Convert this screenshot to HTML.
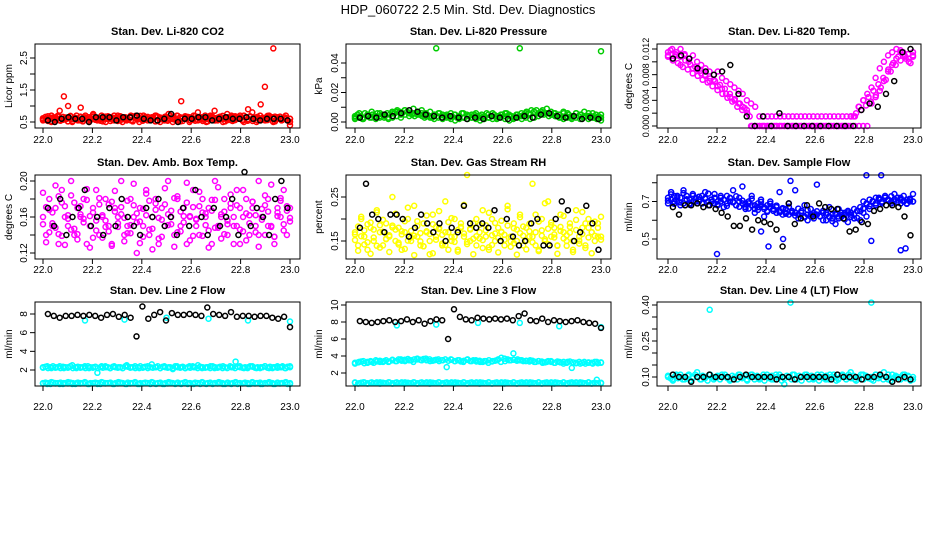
<!DOCTYPE html>
<html><head><meta charset="utf-8">
<style>
html,body{margin:0;padding:0;background:#fff;}
svg{display:block;font-family:"Liberation Sans",Arial,sans-serif;}
</style></head>
<body>
<svg id="chart" width="936" height="540" viewBox="0 0 936 540" xmlns="http://www.w3.org/2000/svg">
<rect x="0" y="0" width="936" height="540" fill="#fff"/>
<text x="468" y="14" text-anchor="middle" font-size="13">HDP_060722  2.5 Min. Std. Dev. Diagnostics</text>
</svg>
<script>
// ---------- data ----------
const xTicks = [22.0, 22.2, 22.4, 22.6, 22.8, 23.0];
const xTickLabels = ["22.0", "22.2", "22.4", "22.6", "22.8", "23.0"];

const co2Red = [0.6,0.55,0.7,0.65,0.85,1.3,1.0,0.6,0.7,0.95,0.6,0.65,0.75,0.6,0.7,0.65,0.6,0.7,0.65,0.6,0.55,0.7,0.65,0.6,0.7,0.6,0.65,0.7,0.6,0.65,0.75,0.6,0.7,1.15,0.6,0.65,0.7,0.8,0.65,0.6,0.7,0.85,0.65,0.6,0.75,0.7,0.65,0.6,0.7,0.9,0.8,0.65,1.05,1.6,0.7,2.8,0.65,0.6,0.7,0.4];
const co2Red2 = [0.55,0.6,0.5,0.6,0.55,0.6,0.65,0.5,0.6,0.55,0.65,0.5,0.6,0.55,0.6,0.5,0.65,0.55,0.6,0.5,0.6,0.55,0.65,0.5,0.6,0.55,0.6,0.65,0.5,0.55,0.6,0.5,0.55,0.6,0.65,0.5,0.6,0.55,0.6,0.5,0.65,0.55,0.6,0.5,0.6,0.55,0.6,0.65,0.5,0.55,0.6,0.5,0.55,0.6,0.65,0.5,0.6,0.55,0.6,0.5];
const co2Red3 = [0.62,0.57,0.68,0.52,0.64,0.59,0.7,0.54,0.66,0.58,0.61,0.69,0.53,0.63,0.57,0.67,0.52,0.6,0.65,0.56,0.71,0.58,0.62,0.54,0.66,0.6,0.68,0.53,0.63,0.59,0.7,0.55,0.64,0.57,0.61,0.67,0.52,0.63,0.58,0.69,0.55,0.62,0.66,0.56,0.6,0.7,0.53,0.64,0.58,0.67,0.54,0.61,0.65,0.57,0.69,0.52,0.63,0.6,0.66,0.55,0.62,0.68,0.57,0.64,0.53,0.7,0.59,0.61,0.66,0.55,0.63,0.58,0.69,0.52,0.65,0.6,0.67,0.56,0.62,0.7,0.54,0.64,0.59,0.68,0.53,0.61,0.66,0.57,0.63,0.55,0.69,0.6,0.65,0.52,0.62,0.67,0.58,0.64,0.56,0.6];
const co2Red4 = [0.58,0.66,0.53,0.63,0.6,0.55,0.67,0.61,0.57,0.64,0.52,0.68,0.59,0.62,0.55,0.65,0.58,0.7,0.54,0.61,0.66,0.57,0.63,0.6,0.52,0.67,0.59,0.64,0.56,0.62,0.53,0.68,0.6,0.65,0.57,0.63,0.55,0.69,0.58,0.61,0.54,0.66,0.6,0.63,0.57,0.52,0.67,0.61,0.58,0.64,0.55,0.7,0.59,0.62,0.56,0.65,0.53,0.68,0.6,0.63,0.57,0.54,0.66,0.61,0.58,0.64,0.52,0.69,0.6,0.62,0.55,0.67,0.59,0.63,0.56,0.65,0.53,0.68,0.6,0.61,0.57,0.64,0.54,0.66,0.59,0.62,0.55,0.7,0.58,0.63,0.56,0.65,0.53,0.67,0.6,0.61,0.57,0.64,0.55,0.6];
const co2Black = [0.55,0.5,0.6,0.65,0.6,0.6,0.5,0.65,0.65,0.65,0.55,0.65,0.65,0.7,0.6,0.55,0.55,0.6,0.75,0.5,0.6,0.6,0.65,0.65,0.55,0.6,0.65,0.6,0.6,0.65,0.6,0.55,0.6,0.6,0.6,0.55];

const pressGreen = [0.004,0.006,0.003,0.005,0.007,0.004,0.006,0.005,0.003,0.006,0.007,0.005,0.008,0.006,0.009,0.007,0.008,0.006,0.007,0.005,0.006,0.005,0.004,0.006,0.005,0.003,0.006,0.004,0.005,0.006,0.004,0.003,0.005,0.006,0.004,0.005,0.006,0.004,0.003,0.005,0.004,0.006,0.005,0.007,0.006,0.008,0.009,0.007,0.006,0.005,0.007,0.006,0.004,0.006,0.005,0.007,0.004,0.006,0.003,0.005];
const pressGreen2 = [0.002,0.003,0.002,0.004,0.003,0.002,0.004,0.003,0.002,0.003,0.004,0.003,0.005,0.004,0.006,0.005,0.006,0.004,0.003,0.002,0.003,0.002,0.003,0.002,0.001,0.002,0.003,0.002,0.003,0.002,0.001,0.002,0.003,0.002,0.002,0.003,0.002,0.001,0.002,0.003,0.002,0.003,0.002,0.003,0.004,0.006,0.006,0.005,0.004,0.003,0.002,0.003,0.002,0.003,0.002,0.004,0.002,0.003,0.002,0.001];
const pressGreen3 = [0.003,0.005,0.004,0.002,0.006,0.004,0.003,0.005,0.004,0.006,0.003,0.005,0.004,0.006,0.005,0.007,0.006,0.008,0.007,0.006,0.008,0.007,0.006,0.005,0.004,0.006,0.005,0.004,0.003,0.005,0.004,0.003,0.005,0.004,0.006,0.003,0.004,0.005,0.003,0.004,0.005,0.003,0.004,0.006,0.003,0.005,0.004,0.003,0.005,0.004,0.003,0.005,0.004,0.006,0.003,0.004,0.005,0.003,0.004,0.005,0.004,0.006,0.005,0.004,0.003,0.005,0.004,0.006,0.005,0.007,0.006,0.008,0.007,0.008,0.006,0.007,0.005,0.006,0.004,0.005,0.006,0.004,0.005,0.003,0.006,0.004,0.005,0.003,0.004,0.006,0.004,0.005,0.003,0.004,0.006,0.004,0.003,0.005,0.004,0.003];
const pressOutX = [22.33, 22.67, 23.0];
const pressOutY = [0.050, 0.050, 0.048];
const pressBlack = [0.003,0.004,0.003,0.005,0.004,0.006,0.008,0.007,0.005,0.004,0.003,0.004,0.003,0.002,0.003,0.002,0.004,0.003,0.002,0.003,0.004,0.003,0.005,0.006,0.004,0.003,0.004,0.002,0.003,0.002];

const tempMag = [0.011,0.012,0.0115,0.012,0.011,0.0105,0.011,0.010,0.0095,0.009,0.0085,0.008,0.0085,0.0075,0.007,0.0065,0.006,0.0055,0.005,0.004,0.0035,0.003,0.0015,0.0015,0.0015,0.0015,0.0015,0.0015,0.0015,0.0015,0.0015,0.0015,0.0015,0.0015,0.0015,0.0015,0.0015,0.0015,0.0015,0.0015,0.0015,0.0015,0.0015,0.0015,0.0015,0.0015,0.003,0.004,0.005,0.006,0.0075,0.009,0.010,0.011,0.0115,0.012,0.0115,0.011,0.0105,0.011];
const tempMag2 = [0.0115,0.0105,0.011,0.0095,0.0112,0.010,0.009,0.0088,0.0082,0.0078,0.007,0.0072,0.0062,0.0058,0.005,0.0045,0.004,0.0035,0.003,0.0025,0.0,0.0,0.0,0.0,0.0,0.0,0.0,0.0,0.0,0.0,0.0,0.0,0.0,0.0,0.0,0.0,0.0,0.0,0.0,0.0,0.0,0.0,0.0,0.0,0.0,0.0,0.0,0.0,0.0,0.0035,0.0045,0.0055,0.007,0.0085,0.0095,0.0105,0.0118,0.0108,0.010,0.0115];
const tempMag3 = [0.0108,0.0118,0.0102,0.0112,0.0098,0.0108,0.0092,0.0102,0.0088,0.0096,0.0082,0.0092,0.0078,0.0086,0.0072,0.008,0.0068,0.0074,0.0062,0.007,0.0056,0.0064,0.005,0.0058,0.0044,0.005,0.0038,0.0042,0.003,0.0035,0.0025,0.0028,0.002,0.0015,0.0,0.0,0.0,0.0,0.0,0.0,0.0,0.0,0.0,0.0,0.0,0.0,0.0,0.0,0.0,0.0,0.0,0.0,0.0,0.0,0.0,0.0,0.0,0.0,0.0,0.0,0.0,0.0,0.0,0.0,0.0,0.0,0.0,0.0,0.0,0.0,0.0,0.0,0.0,0.0,0.0015,0.0015,0.002,0.003,0.0025,0.004,0.0032,0.0045,0.0038,0.0055,0.0048,0.0065,0.006,0.0075,0.0072,0.0088,0.0085,0.0098,0.0095,0.0108,0.0102,0.0115,0.0105,0.0112,0.0098,0.0108];
const tempBlack = [0.0105,0.011,0.0105,0.009,0.0085,0.008,0.0085,0.0095,0.005,0.0015,0.0,0.0015,0.0,0.002,0.0,0.0,0.0,0.0,0.0,0.0,0.0,0.0,0.0,0.0025,0.0035,0.003,0.005,0.007,0.0115,0.012];

const ambMag = [0.16,0.14,0.18,0.15,0.17,0.13,0.19,0.16,0.15,0.2,0.14,0.17,0.16,0.18,0.13,0.15,0.17,0.19,0.14,0.16,0.18,0.15,0.13,0.17,0.16,0.2,0.14,0.15,0.18,0.16,0.12,0.17,0.15,0.19,0.14,0.16,0.18,0.13,0.17,0.15,0.2,0.16,0.14,0.18,0.15,0.17,0.13,0.16,0.19,0.15,0.14,0.18,0.16,0.17,0.13,0.2,0.15,0.16,0.18,0.14,0.17,0.15,0.19,0.13,0.16,0.18,0.14,0.17,0.15,0.2,0.16,0.14,0.18,0.15,0.13,0.17,0.16,0.19,0.14,0.17];
const ambMag2 = [0.152,0.171,0.143,0.165,0.148,0.183,0.139,0.172,0.158,0.146,0.176,0.141,0.163,0.154,0.179,0.161,0.137,0.156,0.174,0.162,0.149,0.144,0.177,0.166,0.153,0.171,0.159,0.142,0.151,0.173,0.164,0.155,0.138,0.162,0.178,0.147,0.168,0.136,0.157,0.174,0.163,0.152,0.181,0.143,0.166,0.154,0.176,0.161,0.139,0.158,0.172,0.165,0.151,0.145,0.167,0.179,0.148,0.163,0.141,0.156,0.175,0.16,0.15,0.17,0.144,0.164,0.153,0.177,0.162,0.14,0.157,0.173,0.166,0.149,0.138,0.161,0.178,0.152,0.167,0.155];
const ambMag3 = [0.187,0.132,0.168,0.153,0.195,0.141,0.176,0.129,0.162,0.184,0.147,0.135,0.172,0.158,0.191,0.126,0.165,0.145,0.181,0.137,0.156,0.174,0.128,0.189,0.149,0.163,0.133,0.178,0.142,0.197,0.154,0.131,0.169,0.186,0.146,0.124,0.175,0.159,0.138,0.192,0.151,0.167,0.127,0.183,0.144,0.161,0.198,0.134,0.171,0.157,0.188,0.139,0.164,0.126,0.179,0.148,0.193,0.136,0.166,0.152,0.185,0.13,0.173,0.146,0.19,0.134,0.162,0.177,0.143,0.127,0.169,0.184,0.15,0.196,0.138,0.165,0.181,0.145,0.172,0.159];
const ambBlack = [0.17,0.15,0.18,0.14,0.16,0.17,0.19,0.15,0.16,0.14,0.17,0.15,0.18,0.16,0.15,0.14,0.17,0.16,0.18,0.15,0.16,0.14,0.17,0.15,0.19,0.16,0.14,0.17,0.15,0.16,0.18,0.14,0.21,0.15,0.17,0.16,0.14,0.18,0.2,0.17];

const rhYellow = [0.17,0.14,0.2,0.16,0.13,0.18,0.15,0.22,0.17,0.14,0.19,0.16,0.25,0.15,0.18,0.13,0.17,0.2,0.15,0.23,0.16,0.14,0.19,0.17,0.12,0.21,0.16,0.18,0.14,0.24,0.17,0.15,0.2,0.13,0.18,0.16,0.3,0.15,0.19,0.14,0.17,0.22,0.16,0.13,0.2,0.15,0.18,0.17,0.14,0.23,0.16,0.19,0.15,0.21,0.14,0.18,0.16,0.28,0.17,0.13,0.2,0.15,0.24,0.16,0.18,0.14,0.21,0.17,0.15,0.19,0.13,0.22,0.16,0.18,0.14,0.2,0.17,0.15,0.19,0.16];
const rhYellow2 = [0.152,0.183,0.161,0.174,0.147,0.192,0.158,0.139,0.186,0.171,0.154,0.163,0.181,0.176,0.142,0.165,0.195,0.151,0.173,0.162,0.184,0.149,0.138,0.172,0.166,0.188,0.153,0.177,0.164,0.141,0.193,0.159,0.148,0.175,0.182,0.167,0.143,0.178,0.155,0.161,0.187,0.152,0.174,0.136,0.163,0.191,0.157,0.171,0.164,0.185,0.149,0.145,0.176,0.168,0.183,0.151,0.172,0.16,0.14,0.194,0.162,0.154,0.178,0.186,0.165,0.139,0.173,0.156,0.163,0.182,0.15,0.175,0.144,0.166,0.19,0.158,0.17,0.162,0.18,0.153];
const rhYellow3 = [0.165,0.128,0.205,0.142,0.188,0.121,0.176,0.215,0.135,0.198,0.155,0.125,0.185,0.212,0.146,0.172,0.132,0.226,0.158,0.118,0.195,0.168,0.138,0.208,0.15,0.122,0.182,0.218,0.144,0.17,0.13,0.202,0.16,0.126,0.19,0.232,0.148,0.176,0.12,0.2,0.156,0.134,0.186,0.214,0.141,0.167,0.124,0.196,0.153,0.222,0.137,0.179,0.119,0.204,0.162,0.131,0.189,0.147,0.21,0.127,0.174,0.236,0.143,0.192,0.158,0.121,0.182,0.207,0.139,0.169,0.125,0.198,0.151,0.216,0.134,0.18,0.122,0.194,0.16,0.205];
const rhBlack = [0.18,0.28,0.21,0.2,0.17,0.21,0.21,0.2,0.16,0.18,0.21,0.19,0.17,0.19,0.15,0.18,0.17,0.23,0.19,0.18,0.19,0.18,0.22,0.15,0.2,0.16,0.14,0.15,0.19,0.2,0.14,0.14,0.2,0.24,0.22,0.15,0.17,0.23,0.19,0.13];

const flowBlue = [0.72,0.75,0.7,0.73,0.68,0.76,0.71,0.69,0.74,0.72,0.7,0.73,0.75,0.68,0.71,0.74,0.7,0.72,0.67,0.73,0.7,0.76,0.68,0.72,0.78,0.66,0.7,0.73,0.64,0.69,0.71,0.62,0.68,0.7,0.65,0.67,0.75,0.63,0.66,0.69,0.64,0.76,0.61,0.65,0.68,0.6,0.66,0.63,0.79,0.62,0.65,0.6,0.67,0.63,0.58,0.66,0.62,0.64,0.59,0.63,0.61,0.65,0.6,0.64,0.62,0.66,0.7,0.68,0.72,0.69,0.73,0.71,0.7,0.74,0.72,0.69,0.73,0.71,0.7,0.74];
const flowBlue2 = [0.69,0.71,0.73,0.7,0.72,0.69,0.73,0.71,0.7,0.72,0.71,0.69,0.72,0.7,0.71,0.69,0.68,0.7,0.71,0.69,0.72,0.7,0.68,0.7,0.69,0.67,0.69,0.68,0.66,0.67,0.68,0.66,0.65,0.67,0.66,0.64,0.65,0.66,0.64,0.63,0.65,0.64,0.63,0.64,0.62,0.63,0.62,0.64,0.63,0.62,0.64,0.63,0.62,0.61,0.63,0.62,0.64,0.63,0.65,0.64,0.66,0.65,0.67,0.7,0.69,0.71,0.7,0.72,0.71,0.7,0.72,0.71,0.69,0.7,0.72,0.71,0.7,0.69,0.71,0.7];
const flowBlue3 = [0.705,0.738,0.688,0.722,0.695,0.745,0.712,0.683,0.731,0.7,0.725,0.69,0.715,0.742,0.698,0.72,0.685,0.73,0.708,0.676,0.718,0.695,0.728,0.672,0.705,0.688,0.662,0.715,0.68,0.655,0.698,0.67,0.645,0.688,0.66,0.678,0.642,0.665,0.635,0.672,0.648,0.625,0.662,0.64,0.615,0.655,0.63,0.61,0.648,0.622,0.6,0.64,0.618,0.595,0.635,0.61,0.628,0.605,0.642,0.618,0.632,0.612,0.648,0.662,0.685,0.675,0.702,0.69,0.715,0.698,0.722,0.705,0.728,0.712,0.695,0.72,0.705,0.688,0.715,0.7];
const flowOutX = [22.2, 22.38, 22.41, 22.47, 22.5, 22.83, 22.95, 22.97, 22.81, 22.87];
const flowOutY = [0.42, 0.54, 0.46, 0.5, 0.81, 0.49, 0.44, 0.45, 0.84, 0.84];
const flowBlack = [0.67,0.63,0.68,0.68,0.69,0.67,0.68,0.66,0.64,0.62,0.57,0.57,0.61,0.55,0.6,0.59,0.58,0.55,0.46,0.69,0.58,0.61,0.68,0.62,0.69,0.67,0.66,0.66,0.61,0.54,0.55,0.59,0.58,0.65,0.66,0.68,0.68,0.67,0.62,0.52];

const l2Black = [8.0,7.8,7.6,7.8,7.8,7.9,7.8,7.9,7.8,7.6,7.9,8.0,7.7,7.9,7.6,5.6,8.8,7.5,7.9,8.2,7.3,8.1,7.9,7.9,8.0,7.9,7.8,8.7,8.0,7.9,7.8,8.2,7.7,7.8,7.8,7.7,7.8,7.8,7.6,7.5,7.7,6.6];
const l2CyanHigh = [2.3,2.4,2.2,2.3,2.4,2.2,2.3,2.5,2.2,2.3,2.4,2.2,2.3,1.7,2.4,2.3,2.2,2.4,2.3,2.2,2.5,2.3,2.4,2.2,2.3,2.4,2.6,2.3,2.2,2.4,2.3,2.1,2.4,2.3,2.2,2.4,2.3,2.5,2.2,2.3,2.4,2.2,2.3,2.4,2.2,2.3,2.9,2.4,2.2,2.3,2.4,2.2,2.3,2.4,2.2,2.3,2.4,2.3,2.2,2.4];
const l2CyanHigh2 = [2.25,2.35,2.2,2.3,2.4,2.25,2.3,2.2,2.35,2.3,2.25,2.4,2.2,2.3,2.35,2.25,2.3,2.2,2.4,2.3,2.25,2.35,2.2,2.3,2.25,2.4,2.3,2.2,2.35,2.3,2.25,2.3,2.2,2.4,2.35,2.25,2.3,2.2,2.3,2.4,2.25,2.35,2.2,2.3,2.25,2.3,2.4,2.2,2.35,2.3,2.25,2.3,2.2,2.4,2.3,2.25,2.35,2.2,2.3,2.25,2.4,2.3,2.2,2.35,2.3,2.25,2.3,2.2,2.4,2.3,2.25,2.35,2.2,2.3,2.25,2.4,2.3,2.2,2.35,2.3,2.25,2.3,2.2,2.4,2.35,2.25,2.3,2.2,2.3,2.4,2.25,2.35,2.2,2.3,2.25,2.3,2.4,2.2,2.35,2.3];
const l2CyanLow = [0.6,0.5,0.7,0.6,0.5,0.6,0.7,0.5,0.6,0.6,0.7,0.5,0.6,0.5,0.7,0.6,0.6,0.5,0.7,0.6,0.5,0.6,0.7,0.5,0.6,0.6,0.7,0.5,0.6,0.5,0.7,0.6,0.6,0.5,0.7,0.6,0.5,0.6,0.7,0.5,0.6,0.6,0.7,0.5,0.6,0.5,0.7,0.6,0.6,0.5,0.7,0.6,0.5,0.6,0.7,0.5,0.6,0.6,0.7,0.5];
const l2CyanLow2 = [0.55,0.65,0.6,0.5,0.65,0.55,0.6,0.65,0.5,0.6,0.55,0.65,0.6,0.5,0.65,0.55,0.6,0.65,0.5,0.6,0.55,0.65,0.6,0.5,0.65,0.55,0.6,0.65,0.5,0.6,0.55,0.65,0.6,0.5,0.65,0.55,0.6,0.65,0.5,0.6,0.55,0.65,0.6,0.5,0.65,0.55,0.6,0.65,0.5,0.6,0.55,0.65,0.6,0.5,0.65,0.55,0.6,0.65,0.5,0.6,0.55,0.65,0.6,0.5,0.65,0.55,0.6,0.65,0.5,0.6,0.55,0.65,0.6,0.5,0.65,0.55,0.6,0.65,0.5,0.6,0.55,0.65,0.6,0.5,0.65,0.55,0.6,0.65,0.5,0.6,0.55,0.65,0.6,0.5,0.65,0.55,0.6,0.65,0.5,0.6];
const l2CyanOutX = [22.17, 22.33, 22.5, 22.67, 22.83, 23.0];
const l2CyanOutY = [7.3, 7.4, 7.6, 7.5, 7.3, 7.2];

const l3Black = [8.1,8.0,7.9,8.0,8.1,8.2,8.0,8.1,8.3,8.0,8.2,7.8,8.1,8.3,8.2,6.0,9.5,8.6,8.3,8.2,8.5,8.4,8.3,8.4,8.3,8.4,8.2,8.7,9.0,8.2,8.1,8.4,8.0,8.2,8.1,8.0,8.1,8.2,8.0,7.9,7.8,7.3];
const l3CyanHigh = [3.2,3.3,3.4,3.2,3.3,3.5,3.3,3.4,3.3,3.5,3.4,3.6,3.4,3.5,3.3,3.6,3.5,3.7,3.4,3.5,3.6,3.5,2.7,3.6,3.4,3.5,3.3,3.6,3.4,3.5,3.3,3.4,3.2,3.4,3.5,3.3,3.4,3.5,4.3,3.6,3.5,3.4,3.5,3.3,3.4,3.2,3.3,3.4,3.2,3.3,3.1,3.3,2.6,3.2,3.1,3.3,3.2,3.1,3.3,3.2];
const l3CyanHigh2 = [3.1,3.25,3.35,3.15,3.3,3.4,3.2,3.35,3.45,3.3,3.5,3.35,3.55,3.4,3.6,3.45,3.55,3.65,3.5,3.6,3.7,3.55,3.65,3.5,3.6,3.45,3.55,3.4,3.5,3.6,3.45,3.55,3.4,3.5,3.35,3.45,3.55,3.4,3.5,3.35,3.45,3.3,3.4,3.5,3.35,3.45,3.6,3.8,3.7,3.6,3.5,3.55,3.45,3.5,3.4,3.45,3.35,3.45,3.3,3.4,3.35,3.25,3.4,3.3,3.2,3.35,3.25,3.3,3.2,3.35,3.25,3.15,3.3,3.2,3.1,3.25,3.2,3.3,3.15,3.25];
const l3CyanLow = [0.9,0.8,0.9,0.8,0.9,0.8,0.9,0.8,0.9,0.8,0.9,0.8,0.9,0.8,0.9,0.8,0.9,0.8,0.9,0.8,0.9,0.8,0.9,0.8,0.9,0.8,0.9,0.8,0.9,0.8,0.9,0.8,0.9,0.8,0.9,0.8,0.9,0.8,0.9,0.8,0.9,0.8,0.9,0.8,0.9,0.8,0.9,0.8,0.9,0.8,0.9,0.8,0.9,0.8,0.9,0.8,0.9,0.8,1.2,0.8];
const l3CyanLow2 = [0.85,0.75,0.85,0.9,0.75,0.85,0.8,0.9,0.75,0.85,0.8,0.9,0.75,0.85,0.8,0.9,0.75,0.85,0.8,0.9,0.75,0.85,0.8,0.9,0.75,0.85,0.8,0.9,0.75,0.85,0.8,0.9,0.75,0.85,0.8,0.9,0.75,0.85,0.8,0.9,0.75,0.85,0.8,0.9,0.75,0.85,0.8,0.9,0.75,0.85,0.8,0.9,0.75,0.85,0.8,0.9,0.75,0.85,0.8,0.9,0.75,0.85,0.8,0.9,0.75,0.85,0.8,0.9,0.75,0.85,0.8,0.9,0.75,0.85,0.8,0.9,0.75,0.85,0.8,0.85];
const l3CyanOutX = [22.17, 22.33, 22.5, 22.67, 22.83, 23.0];
const l3CyanOutY = [7.6, 7.7, 7.9, 7.9, 7.5, 7.4];

const l4Cyan = [0.10,0.09,0.11,0.10,0.09,0.11,0.10,0.12,0.09,0.10,0.11,0.09,0.10,0.11,0.10,0.09,0.10,0.11,0.10,0.09,0.11,0.10,0.09,0.11,0.10,0.09,0.11,0.10,0.07,0.10,0.11,0.09,0.10,0.11,0.10,0.09,0.11,0.10,0.09,0.11,0.10,0.09,0.11,0.10,0.12,0.09,0.10,0.11,0.10,0.09,0.11,0.10,0.12,0.09,0.11,0.10,0.09,0.11,0.10,0.09];
const l4Cyan2 = [0.105,0.095,0.085,0.105,0.095,0.11,0.09,0.1,0.105,0.085,0.095,0.11,0.1,0.09,0.105,0.095,0.085,0.11,0.1,0.095,0.105,0.09,0.1,0.11,0.095,0.085,0.105,0.1,0.09,0.11,0.095,0.105,0.085,0.1,0.11,0.09,0.105,0.095,0.1,0.085,0.11,0.095,0.105,0.09,0.1,0.11,0.085,0.095,0.105,0.1,0.09,0.11,0.095,0.105,0.085,0.1,0.11,0.09,0.105,0.095,0.1,0.085,0.11,0.095,0.105,0.09,0.1,0.11,0.085,0.095,0.105,0.1,0.09,0.11,0.095,0.105,0.085,0.1,0.11,0.09,0.105,0.095,0.1,0.085,0.11,0.095,0.105,0.09,0.1,0.11,0.085,0.095,0.105,0.1,0.09,0.11,0.095,0.105,0.085,0.1];
const l4OutX = [22.17, 22.5, 22.83];
const l4OutY = [0.38, 0.41, 0.41];
const l4Black = [0.11,0.10,0.10,0.08,0.10,0.10,0.11,0.10,0.10,0.10,0.09,0.10,0.11,0.10,0.10,0.10,0.10,0.09,0.10,0.10,0.09,0.10,0.10,0.10,0.10,0.10,0.09,0.11,0.10,0.10,0.10,0.09,0.10,0.10,0.11,0.10,0.08,0.09,0.10,0.09];

// ---------- layout ----------
const svg = document.getElementById('chart');
const NS = 'http://www.w3.org/2000/svg';
function mk(tag, attrs){ const e=document.createElementNS(NS,tag); for(const k in attrs) e.setAttribute(k,attrs[k]); return e; }
function seq(arr, x0, x1){ const n=arr.length; return arr.map((v,i)=>x0+(x1-x0)*(n===1?0:i/(n-1))); }

const cols = [{l:35,r:300,x0:43,x1:290,lab:12},{l:346,r:611,x0:355,x1:601,lab:322},{l:657,r:921,x0:668,x1:913,lab:632}];
const rows = [{t:44,b:128,title:35,xl:143},{t:175,b:259,title:166,xl:273},{t:302,b:386,title:294,xl:410}];

const panels = [
 {r:0,c:0,name:'co2',title:'Stan. Dev. Li-820 CO2',ylab:'Licor ppm',yA:[0.5,122],yB:[2.5,58],ticks:[0.5,1.0,1.5,2.0,2.5],labels:['0.5','','1.5','','2.5'],
  series:[{y:co2Red,col:'#ff0000'},{y:co2Red2,col:'#ff0000'},{y:co2Red3,col:'#ff0000'},{y:co2Red4,col:'#ff0000'},{y:co2Black,col:'#000',x0:22.02,x1:22.99}]},
 {r:0,c:1,name:'pressure',title:'Stan. Dev. Li-820 Pressure',ylab:'kPa',yA:[0,122],yB:[0.04,63],ticks:[0,0.01,0.02,0.03,0.04],labels:['0.00','','0.02','','0.04'],
  series:[{y:pressGreen,col:'#00cc00'},{y:pressGreen2,col:'#00cc00'},{y:pressGreen3,col:'#00cc00'},{y:pressOutY,xs:pressOutX,col:'#00cc00'},{y:pressBlack,col:'#000',x0:22.02,x1:22.99}]},
 {r:0,c:2,name:'temp',title:'Stan. Dev. Li-820 Temp.',ylab:'degrees C',yA:[0,126],yB:[0.012,49],ticks:[0,0.002,0.004,0.006,0.008,0.010,0.012],labels:['0.000','','0.004','','0.008','','0.012'],
  series:[{y:tempMag,col:'#ff00ff'},{y:tempMag2,col:'#ff00ff'},{y:tempMag3,col:'#ff00ff'},{y:tempBlack,col:'#000',x0:22.02,x1:22.99}]},
 {r:1,c:0,name:'amb-box',title:'Stan. Dev. Amb. Box Temp.',ylab:'degrees C',yA:[0.12,253],yB:[0.20,181],ticks:[0.12,0.14,0.16,0.18,0.20],labels:['0.12','','0.16','','0.20'],
  series:[{y:ambMag,col:'#ff00ff'},{y:ambMag2,col:'#ff00ff'},{y:ambMag3,col:'#ff00ff'},{y:ambBlack,col:'#000',x0:22.02,x1:22.99}]},
 {r:1,c:1,name:'rh',title:'Stan. Dev. Gas Stream RH',ylab:'percent',yA:[0.15,241],yB:[0.25,197],ticks:[0.15,0.20,0.25],labels:['0.15','','0.25'],
  series:[{y:rhYellow,col:'#ffff00'},{y:rhYellow2,col:'#ffff00'},{y:rhYellow3,col:'#ffff00'},{y:rhBlack,col:'#000',x0:22.02,x1:22.99}]},
 {r:1,c:2,name:'sample-flow',title:'Stan. Dev. Sample Flow',ylab:'ml/min',yA:[0.5,239],yB:[0.7,201.5],ticks:[0.5,0.6,0.7,0.8],labels:['0.5','','0.7',''],
  series:[{y:flowBlue,col:'#0000ff'},{y:flowBlue2,col:'#0000ff'},{y:flowBlue3,col:'#0000ff'},{y:flowOutY,xs:flowOutX,col:'#0000ff'},{y:flowBlack,col:'#000',x0:22.02,x1:22.99}]},
 {r:2,c:0,name:'line2',title:'Stan. Dev. Line 2 Flow',ylab:'ml/min',yA:[2,370],yB:[8,314],ticks:[2,4,6,8],labels:['2','4','6','8'],
  series:[{y:l2CyanHigh,col:'#00ffff'},{y:l2CyanHigh2,col:'#00ffff'},{y:l2CyanLow,col:'#00ffff'},{y:l2CyanLow2,col:'#00ffff'},{y:l2CyanOutY,xs:l2CyanOutX,col:'#00ffff'},{y:l2Black,col:'#000',x0:22.02,x1:23.0}]},
 {r:2,c:1,name:'line3',title:'Stan. Dev. Line 3 Flow',ylab:'ml/min',yA:[2,373],yB:[10,305],ticks:[2,4,6,8,10],labels:['2','4','6','8','10'],
  series:[{y:l3CyanHigh,col:'#00ffff'},{y:l3CyanHigh2,col:'#00ffff'},{y:l3CyanLow,col:'#00ffff'},{y:l3CyanLow2,col:'#00ffff'},{y:l3CyanOutY,xs:l3CyanOutX,col:'#00ffff'},{y:l3Black,col:'#000',x0:22.02,x1:23.0}]},
 {r:2,c:2,name:'line4',title:'Stan. Dev. Line 4 (LT) Flow',ylab:'ml/min',yA:[0.10,377],yB:[0.40,305],ticks:[0.10,0.15,0.20,0.25,0.30,0.35,0.40],labels:['0.10','','','0.25','','','0.40'],
  series:[{y:l4Cyan,col:'#00ffff'},{y:l4Cyan2,col:'#00ffff'},{y:l4OutY,xs:l4OutX,col:'#00ffff'},{y:l4Black,col:'#000',x0:22.02,x1:22.99}]}
];

panels.forEach(p=>{
  const C=cols[p.c], R=rows[p.r];
  const g=mk('g',{});
  
  
  svg.appendChild(g);
  const xs=v=>C.x0+(v-22)*(C.x1-C.x0);
  const ys=v=>p.yA[1]+(v-p.yA[0])*(p.yB[1]-p.yA[1])/(p.yB[0]-p.yA[0]);
  const t=mk('text',{x:(C.l+C.r)/2,y:R.title,'text-anchor':'middle','font-size':'11','font-weight':'bold'});
  t.textContent=p.title;
  
  
  g.appendChild(t);
  const pg=mk('g',{fill:'none','stroke-width':'1.5'});
  
  
  g.appendChild(pg);
  p.series.forEach(s=>{
    const xv = s.xs ? s.xs : seq(s.y, s.x0!==undefined?s.x0:22.0, s.x1!==undefined?s.x1:23.0);
    s.y.forEach((v,i)=>{
      const c=mk('circle',{cx:xs(xv[i]).toFixed(1),cy:ys(v).toFixed(1),r:'2.5',stroke:s.col});
      
      
      pg.appendChild(c);
    });
  });
  const box=mk('rect',{x:C.l,y:R.t,width:C.r-C.l,height:R.b-R.t,fill:'none',stroke:'#000','stroke-width':'1'});
  
  
  g.appendChild(box);
  const xa=mk('g',{'font-size':'10'});
  
  
  g.appendChild(xa);
  xTicks.forEach((v,i)=>{
    const x=xs(v);
    xa.appendChild(mk('line',{x1:x,x2:x,y1:R.b,y2:R.b+5,stroke:'#000'}));
    const tl=mk('text',{x:x,y:R.xl,'text-anchor':'middle'});
    tl.textContent=xTickLabels[i];
    
    
    xa.appendChild(tl);
  });
  const ya=mk('g',{'font-size':'10'});
  
  
  g.appendChild(ya);
  p.ticks.forEach((v,i)=>{
    const y=ys(v);
    ya.appendChild(mk('line',{x1:C.l-5,x2:C.l,y1:y,y2:y,stroke:'#000'}));
    if(p.labels[i]){
      const tl=mk('text',{x:C.l-8,y:y,'text-anchor':'middle','font-size':p.name==='temp'?'9':'10',transform:`rotate(-90 ${C.l-8} ${y})`});
      tl.textContent=p.labels[i];
      
      
      ya.appendChild(tl);
    }
  });
  const yl=mk('text',{x:C.lab,y:(R.t+R.b)/2,'text-anchor':'middle','font-size':'10',transform:`rotate(-90 ${C.lab} ${(R.t+R.b)/2})`});
  yl.textContent=p.ylab;
  
  
  g.appendChild(yl);
});
</script>
</body></html>
